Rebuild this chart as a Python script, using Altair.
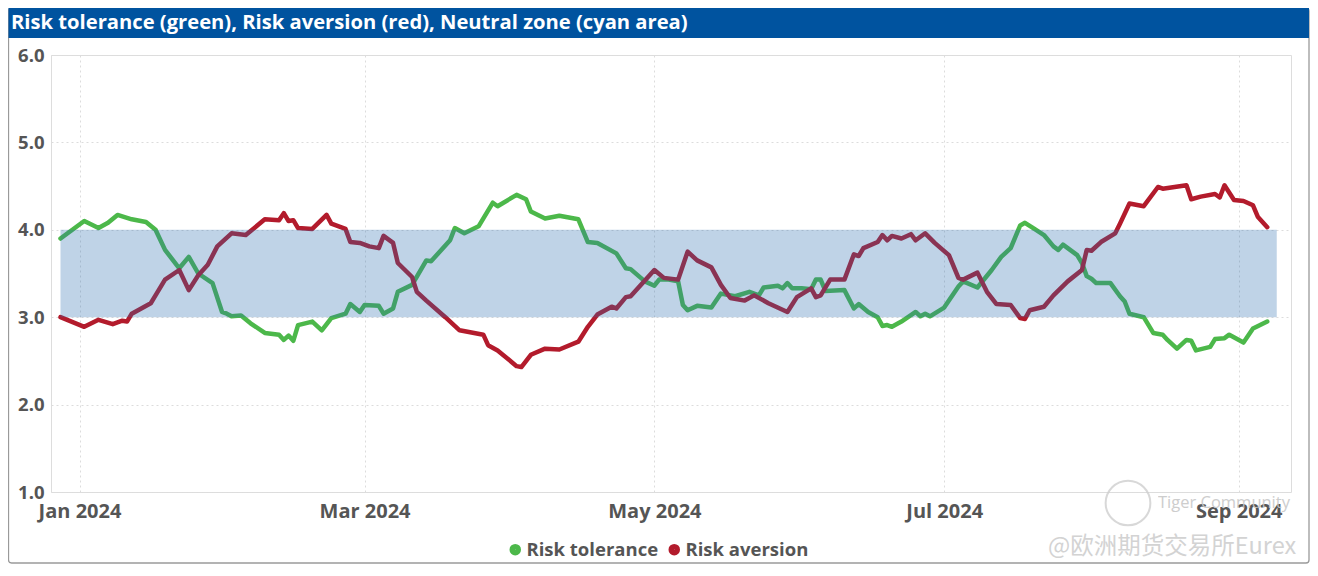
import altair as alt
import pandas as pd

title_text = "Risk tolerance (green), Risk aversion (red), Neutral zone (cyan area)"
series_names = ["Risk tolerance", "Risk aversion"]
series_colors = ["#4cb84a", "#b31b2c"]

tol_dates = ["2023-12-28", "2024-01-02", "2024-01-05", "2024-01-07", "2024-01-09", "2024-01-12", "2024-01-15",
             "2024-01-17", "2024-01-19", "2024-01-22", "2024-01-24", "2024-01-26", "2024-01-29", "2024-01-31",
             "2024-02-01", "2024-02-02", "2024-02-04", "2024-02-06", "2024-02-09", "2024-02-12", "2024-02-13",
             "2024-02-14", "2024-02-15", "2024-02-16", "2024-02-19", "2024-02-21", "2024-02-23", "2024-02-26",
             "2024-02-27", "2024-02-29", "2024-03-01", "2024-03-04", "2024-03-05", "2024-03-07", "2024-03-08",
             "2024-03-11", "2024-03-14", "2024-03-15", "2024-03-19", "2024-03-20", "2024-03-22", "2024-03-25",
             "2024-03-28", "2024-03-29", "2024-04-02", "2024-04-04", "2024-04-05", "2024-04-08", "2024-04-11",
             "2024-04-15", "2024-04-17", "2024-04-19", "2024-04-23", "2024-04-25", "2024-04-26", "2024-04-29",
             "2024-05-01", "2024-05-02", "2024-05-04", "2024-05-06", "2024-05-07", "2024-05-08", "2024-05-10",
             "2024-05-13", "2024-05-15", "2024-05-18", "2024-05-21", "2024-05-23", "2024-05-24", "2024-05-27",
             "2024-05-28", "2024-05-29", "2024-05-30", "2024-06-01", "2024-06-03", "2024-06-04", "2024-06-05",
             "2024-06-06", "2024-06-10", "2024-06-12", "2024-06-13", "2024-06-15", "2024-06-17", "2024-06-18",
             "2024-06-19", "2024-06-20", "2024-06-22", "2024-06-25", "2024-06-26", "2024-06-27", "2024-06-28",
             "2024-07-01", "2024-07-04", "2024-07-05", "2024-07-08", "2024-07-11", "2024-07-13", "2024-07-15",
             "2024-07-17", "2024-07-18", "2024-07-20", "2024-07-22", "2024-07-24", "2024-07-25", "2024-07-26",
             "2024-07-29", "2024-07-30", "2024-07-31", "2024-08-01", "2024-08-02", "2024-08-05", "2024-08-07",
             "2024-08-08", "2024-08-09", "2024-08-12", "2024-08-14", "2024-08-16", "2024-08-17", "2024-08-19",
             "2024-08-21", "2024-08-22", "2024-08-23", "2024-08-26", "2024-08-27", "2024-08-29", "2024-08-30",
             "2024-09-02", "2024-09-04", "2024-09-07"]
tol_vals = [3.90, 4.10, 4.02, 4.08, 4.17, 4.12, 4.09,
            4.00, 3.77, 3.56, 3.69, 3.50, 3.39, 3.06,
            3.04, 3.01, 3.02, 2.93, 2.82, 2.80, 2.74,
            2.79, 2.73, 2.91, 2.95, 2.85, 2.99, 3.04,
            3.15, 3.06, 3.14, 3.13, 3.04, 3.10, 3.29,
            3.37, 3.65, 3.64, 3.88, 4.02, 3.96, 4.04,
            4.31, 4.27, 4.40, 4.35, 4.21, 4.13, 4.16,
            4.12, 3.86, 3.85, 3.73, 3.56, 3.55, 3.41,
            3.36, 3.43, 3.43, 3.41, 3.14, 3.08, 3.13,
            3.11, 3.27, 3.24, 3.29, 3.25, 3.34, 3.36,
            3.33, 3.39, 3.33, 3.33, 3.32, 3.43, 3.43,
            3.30, 3.31, 3.10, 3.15, 3.06, 3.00, 2.90,
            2.91, 2.89, 2.95, 3.06, 3.01, 3.04, 3.01,
            3.11, 3.35, 3.41, 3.34, 3.54, 3.69, 3.79,
            4.05, 4.08, 4.01, 3.94, 3.81, 3.77, 3.83,
            3.71, 3.62, 3.47, 3.44, 3.39, 3.39, 3.24,
            3.18, 3.04, 3.00, 2.82, 2.80, 2.74, 2.64,
            2.74, 2.73, 2.62, 2.66, 2.75, 2.76, 2.80,
            2.71, 2.87, 2.95]

av_dates = ["2023-12-28", "2024-01-02", "2024-01-05", "2024-01-08", "2024-01-10", "2024-01-11", "2024-01-12",
            "2024-01-16", "2024-01-17", "2024-01-19", "2024-01-22", "2024-01-24", "2024-01-26", "2024-01-28",
            "2024-01-30", "2024-02-02", "2024-02-05", "2024-02-09", "2024-02-12", "2024-02-13", "2024-02-14",
            "2024-02-15", "2024-02-16", "2024-02-19", "2024-02-22", "2024-02-23", "2024-02-26", "2024-02-27",
            "2024-02-29", "2024-03-02", "2024-03-04", "2024-03-05", "2024-03-07", "2024-03-08", "2024-03-11",
            "2024-03-12", "2024-03-14", "2024-03-18", "2024-03-21", "2024-03-26", "2024-03-27", "2024-03-29",
            "2024-04-02", "2024-04-03", "2024-04-05", "2024-04-08", "2024-04-11", "2024-04-15", "2024-04-17",
            "2024-04-19", "2024-04-22", "2024-04-23", "2024-04-25", "2024-04-26", "2024-05-01", "2024-05-03",
            "2024-05-06", "2024-05-08", "2024-05-10", "2024-05-13", "2024-05-15", "2024-05-17", "2024-05-20",
            "2024-05-22", "2024-05-25", "2024-05-29", "2024-05-31", "2024-06-03", "2024-06-04", "2024-06-05",
            "2024-06-07", "2024-06-10", "2024-06-12", "2024-06-13", "2024-06-14", "2024-06-17", "2024-06-18",
            "2024-06-19", "2024-06-20", "2024-06-22", "2024-06-24", "2024-06-25", "2024-06-27", "2024-06-29",
            "2024-07-02", "2024-07-04", "2024-07-05", "2024-07-08", "2024-07-10", "2024-07-12", "2024-07-15",
            "2024-07-17", "2024-07-18", "2024-07-19", "2024-07-22", "2024-07-24", "2024-07-27", "2024-07-30",
            "2024-07-31", "2024-08-01", "2024-08-03", "2024-08-06", "2024-08-07", "2024-08-09", "2024-08-12",
            "2024-08-15", "2024-08-16", "2024-08-21", "2024-08-22", "2024-08-24", "2024-08-27", "2024-08-28",
            "2024-08-29", "2024-08-31", "2024-09-02", "2024-09-04", "2024-09-05", "2024-09-07"]
av_vals = [3.00, 2.89, 2.97, 2.92, 2.96, 2.95, 3.04,
           3.16, 3.25, 3.43, 3.54, 3.31, 3.48, 3.60,
           3.81, 3.96, 3.94, 4.12, 4.11, 4.19, 4.10,
           4.11, 4.02, 4.01, 4.17, 4.07, 4.01, 3.86,
           3.85, 3.81, 3.79, 3.93, 3.85, 3.62, 3.46,
           3.29, 3.19, 3.00, 2.85, 2.80, 2.68, 2.62,
           2.44, 2.43, 2.57, 2.64, 2.63, 2.72, 2.89,
           3.03, 3.12, 3.10, 3.23, 3.24, 3.54, 3.45,
           3.43, 3.75, 3.65, 3.57, 3.37, 3.22, 3.19,
           3.25, 3.16, 3.06, 3.23, 3.33, 3.23, 3.25,
           3.43, 3.43, 3.72, 3.70, 3.79, 3.86, 3.94,
           3.88, 3.93, 3.90, 3.95, 3.88, 3.96, 3.85,
           3.71, 3.45, 3.43, 3.51, 3.29, 3.15, 3.14,
           2.99, 2.98, 3.08, 3.12, 3.25, 3.41, 3.54,
           3.77, 3.76, 3.86, 3.96, 4.07, 4.30, 4.27,
           4.49, 4.47, 4.51, 4.35, 4.38, 4.41, 4.37,
           4.51, 4.34, 4.33, 4.28, 4.15, 4.03]

band_low, band_high = 3.0, 4.0
band_start, band_end = "2023-12-28", "2024-09-09"
x_domain = [(2023, 12, 26), (2024, 9, 12)]
x_ticks = [(2024, 1, 1), (2024, 3, 1), (2024, 5, 1), (2024, 7, 1), (2024, 9, 1)]
y_ticks = [1, 2, 3, 4, 5, 6]
watermark_1 = "Tiger Community"
watermark_2 = "@欧洲期货交易所Eurex"

FONT = "Open Sans"
GRAY = "#555555"

df = pd.concat([
    pd.DataFrame({"date": tol_dates, "value": tol_vals, "series": series_names[0]}),
    pd.DataFrame({"date": av_dates, "value": av_vals, "series": series_names[1]}),
], ignore_index=True)

band_df = pd.DataFrame({"start": [band_start], "end": [band_end], "low": [band_low], "high": [band_high]})
one = pd.DataFrame({"k": [0]})


def dt(t):
    return alt.DateTime(year=t[0], month=t[1], date=t[2], utc=True)


xscale = alt.Scale(type="utc", domain=[dt(t) for t in x_domain])
yscale = alt.Scale(domain=[1, 6], nice=False)

xaxis = alt.Axis(values=[dt(t) for t in x_ticks], format="%b %Y", labelFont=FONT, labelFontSize=20,
                 labelFontWeight="bold", labelColor=GRAY, labelPadding=9, ticks=False, domain=False,
                 grid=True, gridColor="#dcdcdc", gridDash=[2, 3], labelFlush=False)
yaxis = alt.Axis(values=y_ticks, format=".1f", labelFont=FONT, labelFontSize=18.5, labelFontWeight="bold",
                 labelColor=GRAY, labelPadding=7, ticks=False, domain=False, grid=True,
                 gridColor="#dcdcdc", gridDash=[2, 3])

lines = alt.Chart(df).mark_line(strokeWidth=4.5, strokeJoin="round", strokeCap="round").encode(
    x=alt.X("date:T", scale=xscale, axis=xaxis, title=None),
    y=alt.Y("value:Q", scale=yscale, axis=yaxis, title=None),
    color=alt.Color("series:N", scale=alt.Scale(domain=series_names, range=series_colors),
                    legend=alt.Legend(title=None, orient="none", legendX=455, legendY=485,
                                      direction="horizontal", symbolType="circle", symbolSize=36,
                                      symbolStrokeWidth=5.5, labelFont=FONT, labelFontSize=18.5,
                                      labelFontWeight="bold", labelColor=GRAY, labelOffset=2,
                                      columnPadding=1)),
)

band = alt.Chart(band_df).mark_rect(color="#2b6cb0", opacity=0.3).encode(
    x=alt.X("start:T", scale=xscale), x2="end:T",
    y=alt.Y("low:Q", scale=yscale), y2="high:Q",
)

frame = alt.Chart(one).mark_rect(fill="white", fillOpacity=0, stroke="#9a9a9a", strokeWidth=1.3,
                                 cornerRadius=3).encode(
    x=alt.value(-42.5), x2=alt.value(1258), y=alt.value(-47), y2=alt.value(508))

title_bar = alt.Chart(one).mark_rect(fill="#00539f").encode(
    x=alt.value(-42.5), x2=alt.value(1258), y=alt.value(-47), y2=alt.value(-17))

title = alt.Chart(one).mark_text(text=title_text, align="left", baseline="middle", font=FONT,
                                 fontSize=20.2, fontWeight="bold", color="white").encode(
    x=alt.value(-40), y=alt.value(-32.5))

logo = alt.Chart(one).mark_point(shape="circle", filled=False, size=2000, stroke="#cfcfcf",
                                 strokeWidth=2, opacity=0.8).encode(x=alt.value(1077), y=alt.value(448))

wm1 = alt.Chart(one).mark_text(text=watermark_1, align="left", baseline="middle", font=FONT,
                               fontSize=16.5, color="#c8c8c8", opacity=0.9).encode(
    x=alt.value(1107), y=alt.value(448))

wm2 = alt.Chart(one).mark_text(text=watermark_2, align="left", baseline="middle",
                               font="Noto Sans CJK SC", fontSize=23.5, color="#d3d3d3").encode(
    x=alt.value(997), y=alt.value(492))

chart = alt.layer(frame, title_bar, title, lines, band, logo, wm1, wm2).properties(
    width=1240, height=437,
    autosize=alt.AutoSizeParams(type="none"),
    padding={"left": 43, "top": 47, "right": 19, "bottom": 73},
).configure_view(stroke=None).configure(background="white")

chart.save("out.html", embed_options={"renderer": "svg", "actions": False})
